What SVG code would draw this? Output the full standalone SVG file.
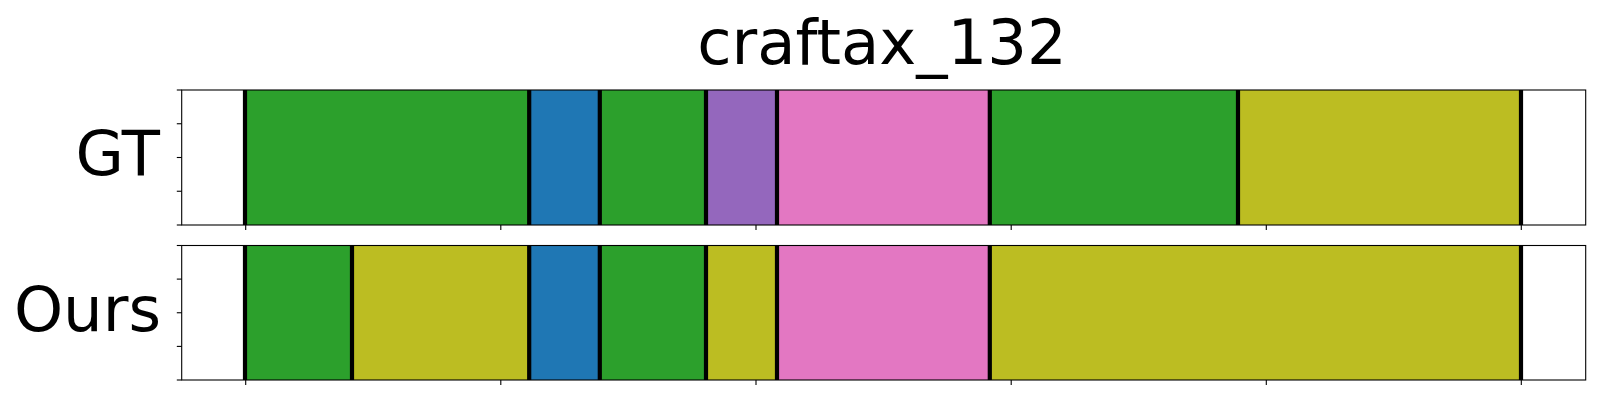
<svg xmlns="http://www.w3.org/2000/svg" width="1600" height="400" viewBox="0 0 1600 400">
<style>
  text { font-family: "DejaVu Sans", "Liberation Sans", sans-serif; fill: #000; }
  .title { font-size: 62.5px; text-anchor: middle; }
  .lab { font-size: 62.5px; text-anchor: end; }
  .g { fill: #2ca02c; }
  .b { fill: #1f77b4; }
  .p { fill: #9467bd; }
  .k { fill: #e377c2; }
  .o { fill: #bcbd22; }
  .sep { stroke: #000; stroke-width: 4.2; }
  .frame { fill: none; stroke: #000; stroke-width: 1.1; }
  .tick { stroke: #000; stroke-width: 1.1; }
</style>
<rect width="1600" height="400" fill="#fff"/>
<text class="title" x="882" y="63.5">craftax_132</text>

<g id="axis-gt">
  <text class="lab" x="160" y="175">GT</text>
  <rect class="g" x="245.5" y="90" width="283.7" height="135"/>
  <rect class="b" x="529.2" y="90" width="70.6" height="135"/>
  <rect class="g" x="599.8" y="90" width="106.2" height="135"/>
  <rect class="p" x="706" y="90" width="71" height="135"/>
  <rect class="k" x="777" y="90" width="212.8" height="135"/>
  <rect class="g" x="989.8" y="90" width="248.2" height="135"/>
  <rect class="o" x="1238" y="90" width="283" height="135"/>
  <g class="sep">
    <line x1="245" y1="90" x2="245" y2="225"/>
    <line x1="529.2" y1="90" x2="529.2" y2="225"/>
    <line x1="599.8" y1="90" x2="599.8" y2="225"/>
    <line x1="706" y1="90" x2="706" y2="225"/>
    <line x1="777" y1="90" x2="777" y2="225"/>
    <line x1="989.8" y1="90" x2="989.8" y2="225"/>
    <line x1="1238" y1="90" x2="1238" y2="225"/>
    <line x1="1521" y1="90" x2="1521" y2="225"/>
  </g>
  <rect class="frame" x="181.7" y="90" width="1404" height="135"/>
  <g class="tick">
    <line x1="176.8" y1="90" x2="181.7" y2="90"/>
    <line x1="176.8" y1="123.75" x2="181.7" y2="123.75"/>
    <line x1="176.8" y1="157.5" x2="181.7" y2="157.5"/>
    <line x1="176.8" y1="191.25" x2="181.7" y2="191.25"/>
    <line x1="176.8" y1="225" x2="181.7" y2="225"/>
    <line x1="245.7" y1="225" x2="245.7" y2="229.9"/>
    <line x1="500.8" y1="225" x2="500.8" y2="229.9"/>
    <line x1="756" y1="225" x2="756" y2="229.9"/>
    <line x1="1011.2" y1="225" x2="1011.2" y2="229.9"/>
    <line x1="1266.3" y1="225" x2="1266.3" y2="229.9"/>
    <line x1="1521.3" y1="225" x2="1521.3" y2="229.9"/>
  </g>
</g>

<g id="axis-ours">
  <text class="lab" x="161" y="330.5">Ours</text>
  <rect class="g" x="245.5" y="245.5" width="106.5" height="134.5"/>
  <rect class="o" x="352" y="245.5" width="177.2" height="134.5"/>
  <rect class="b" x="529.2" y="245.5" width="70.6" height="134.5"/>
  <rect class="g" x="599.8" y="245.5" width="106.2" height="134.5"/>
  <rect class="o" x="706" y="245.5" width="71" height="134.5"/>
  <rect class="k" x="777" y="245.5" width="212.8" height="134.5"/>
  <rect class="o" x="989.8" y="245.5" width="531.2" height="134.5"/>
  <g class="sep">
    <line x1="245" y1="245.5" x2="245" y2="380"/>
    <line x1="352" y1="245.5" x2="352" y2="380"/>
    <line x1="529.2" y1="245.5" x2="529.2" y2="380"/>
    <line x1="599.8" y1="245.5" x2="599.8" y2="380"/>
    <line x1="706" y1="245.5" x2="706" y2="380"/>
    <line x1="777" y1="245.5" x2="777" y2="380"/>
    <line x1="989.8" y1="245.5" x2="989.8" y2="380"/>
    <line x1="1521" y1="245.5" x2="1521" y2="380"/>
  </g>
  <rect class="frame" x="181.7" y="245.5" width="1404" height="134.5"/>
  <g class="tick">
    <line x1="176.8" y1="245.5" x2="181.7" y2="245.5"/>
    <line x1="176.8" y1="279.1" x2="181.7" y2="279.1"/>
    <line x1="176.8" y1="312.75" x2="181.7" y2="312.75"/>
    <line x1="176.8" y1="346.4" x2="181.7" y2="346.4"/>
    <line x1="176.8" y1="380" x2="181.7" y2="380"/>
    <line x1="245.7" y1="380" x2="245.7" y2="384.9"/>
    <line x1="500.8" y1="380" x2="500.8" y2="384.9"/>
    <line x1="756" y1="380" x2="756" y2="384.9"/>
    <line x1="1011.2" y1="380" x2="1011.2" y2="384.9"/>
    <line x1="1266.3" y1="380" x2="1266.3" y2="384.9"/>
    <line x1="1521.3" y1="380" x2="1521.3" y2="384.9"/>
  </g>
</g>
</svg>
